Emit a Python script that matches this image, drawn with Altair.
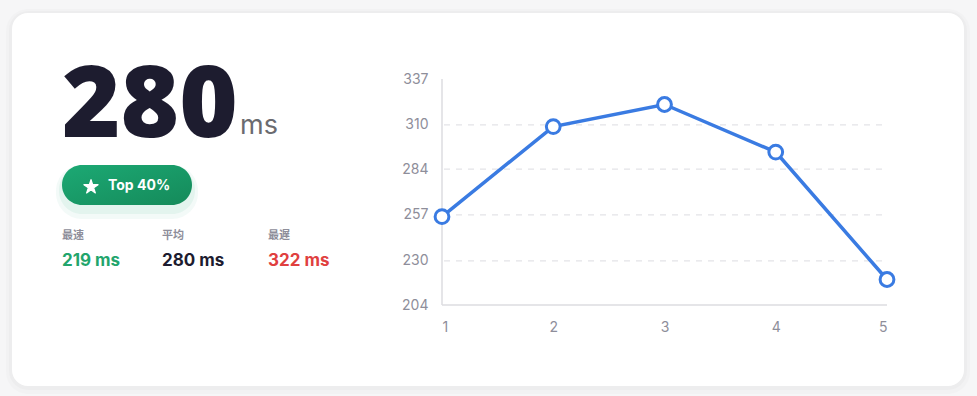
import altair as alt
import pandas as pd

# ---- data ----
runs = [1, 2, 3, 4, 5]
latency_ms = [256, 309, 322, 294, 219]
y_ticks = [204, 230, 257, 284, 310, 337]
grid_ticks = [230, 257, 284, 310]
headline = "280"
unit = "ms"
badge_text = "Top 40%"
stat_labels = ["最速", "平均", "最遅"]
stat_values = ["219 ms", "280 ms", "322 ms"]
stat_colors = ["#22a56c", "#1d1c2f", "#e0403f"]
stat_x = [-380, -280, -174]

W, H = 445, 226
PAD = {"left": 442, "top": 79, "right": 90, "bottom": 91}

df = pd.DataFrame({"run": runs, "ms": latency_ms})
grid_df = pd.DataFrame({"v": grid_ticks})
stats_df = pd.DataFrame({"label": stat_labels, "value": stat_values,
                         "color": stat_colors, "x": stat_x})

x_scale = alt.Scale(domain=[1, 5], nice=False, zero=False)
y_scale = alt.Scale(domain=[204, 337], nice=False, zero=False)

one = pd.DataFrame({"a": [0]})
base = alt.Chart(one)

card_shadow2 = base.mark_rect(fill="#000000", opacity=0.015, cornerRadius=22).encode(
    x=alt.value(-436), x2=alt.value(528), y=alt.value(-70), y2=alt.value(315))
card_shadow = base.mark_rect(fill="#000000", opacity=0.02, cornerRadius=19).encode(
    x=alt.value(-433), x2=alt.value(525), y=alt.value(-68), y2=alt.value(311))
card = base.mark_rect(fill="#ffffff", cornerRadius=16).encode(
    x=alt.value(-430), x2=alt.value(522), y=alt.value(-66), y2=alt.value(307))

big = base.mark_text(text=headline, font="Open Sans", fontSize=100, fontWeight=800,
                     color="#1d1c2f", align="left", baseline="alphabetic").encode(
    x=alt.value(-380), y=alt.value(58))
unit_t = base.mark_text(text=unit, font="Inter", fontSize=27, fontWeight=400,
                        color="#6b6b70", align="left", baseline="alphabetic").encode(
    x=alt.value(-202), y=alt.value(55))

glow1 = base.mark_rect(fill="#1aa36c", opacity=0.05, cornerRadius=26).encode(
    x=alt.value(-386), x2=alt.value(-244), y=alt.value(86), y2=alt.value(140))
glow2 = base.mark_rect(fill="#1aa36c", opacity=0.07, cornerRadius=23).encode(
    x=alt.value(-383), x2=alt.value(-247), y=alt.value(88), y2=alt.value(135))
badge = base.mark_rect(
    cornerRadius=20,
    fill=alt.Gradient(gradient="linear", x1=0, y1=0, x2=1, y2=1,
                      stops=[alt.GradientStop(color="#1ca974", offset=0),
                             alt.GradientStop(color="#158a5a", offset=1)])).encode(
    x=alt.value(-380), x2=alt.value(-250), y=alt.value(86), y2=alt.value(126))
star_path = ("M0,-1 L0.2245,-0.309 L0.951,-0.309 L0.363,0.118 L0.588,0.809 "
             "L0,0.382 L-0.588,0.809 L-0.363,0.118 L-0.951,-0.309 L-0.2245,-0.309 Z")
star = base.mark_point(shape=star_path, filled=True, fill="#ffffff", opacity=1,
                       size=220, strokeWidth=1.2, stroke="#ffffff",
                       strokeJoin="round").encode(x=alt.value(-351), y=alt.value(108))
badge_t = base.mark_text(text=badge_text, font="Inter", fontSize=14, fontWeight=700,
                         color="#ffffff", align="left", baseline="middle").encode(
    x=alt.value(-334), y=alt.value(107))

labels = alt.Chart(stats_df).mark_text(font="Noto Sans CJK SC", fontSize=11,
                                       fontWeight=700, color="#8e8e9a",
                                       align="left", baseline="middle").encode(
    x=alt.X("x:Q", scale=None), y=alt.value(157), text="label:N")
values = alt.Chart(stats_df).mark_text(font="Inter", fontSize=17, fontWeight=700,
                                       align="left", baseline="alphabetic").encode(
    x=alt.X("x:Q", scale=None), y=alt.value(187), text="value:N",
    color=alt.Color("color:N", scale=None))

grid = alt.Chart(grid_df).mark_rule(stroke="#e4e4e8", strokeWidth=1.2,
                                    strokeDash=[6, 6]).encode(
    y=alt.Y("v:Q", scale=y_scale), x=alt.value(2), x2=alt.value(W - 2))
yline = base.mark_rule(stroke="#dcdce0", strokeWidth=1.5).encode(
    x=alt.value(0), y=alt.value(0), y2=alt.value(H))
xline = base.mark_rule(stroke="#dcdce0", strokeWidth=1.5).encode(
    x=alt.value(0), x2=alt.value(W), y=alt.value(H))

x_enc = alt.X("run:Q", scale=x_scale,
              axis=alt.Axis(values=runs, format="d", title=None, domain=False,
                            ticks=False, grid=False, labelFont="Inter",
                            labelFontSize=14, labelColor="#8e8e9a",
                            labelPadding=15, zindex=1))
y_enc = alt.Y("ms:Q", scale=y_scale,
              axis=alt.Axis(values=y_ticks, format="d", title=None, domain=False,
                            ticks=False, grid=False, labelFont="Inter",
                            labelFontSize=14, labelColor="#8e8e9a",
                            labelPadding=14, zindex=1))

line = alt.Chart(df).mark_line(stroke="#3a7be2", strokeWidth=3.5).encode(
    x=x_enc, y=y_enc)
pts = alt.Chart(df).mark_point(shape="circle", filled=True, fill="#ffffff",
                               stroke="#3a7be2", strokeWidth=3, size=190,
                               opacity=1).encode(x="run:Q", y="ms:Q")

chart = alt.layer(
    card_shadow2, card_shadow, card, big, unit_t, glow1, glow2, badge, star, badge_t,
    labels, values, grid, yline, xline, line, pts
).properties(
    width=W, height=H, padding=PAD, autosize="none", background="#f6f6f7"
).configure_view(stroke=None)

chart.save("out.html", embed_options={"renderer": "svg", "actions": False})
